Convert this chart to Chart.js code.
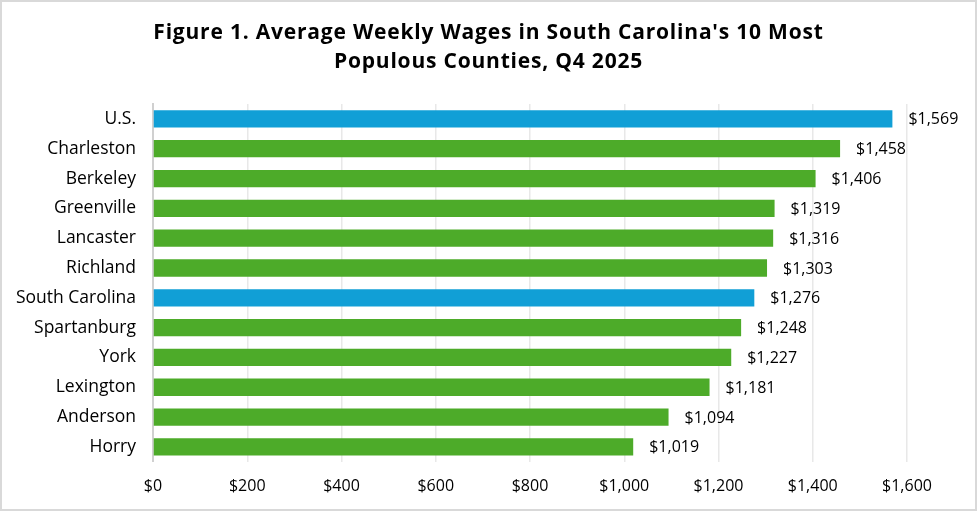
<!DOCTYPE html>
<html>
<head>
<meta charset="utf-8">
<script src="https://cdn.jsdelivr.net/npm/chart.js@4/dist/chart.umd.min.js"></script>
<style>
html,body{margin:0;padding:0;background:#fff;}
#wrap{width:977px;height:511px;position:relative;}
</style>
</head>
<body>
<div id="wrap"><canvas id="c"></canvas></div>
<script>
const titleLines = ["Figure 1. Average Weekly Wages in South Carolina's 10 Most", "Populous Counties, Q4 2025"];
const categories = ["U.S.", "Charleston", "Berkeley", "Greenville", "Lancaster", "Richland", "South Carolina", "Spartanburg", "York", "Lexington", "Anderson", "Horry"];
const wages = [1569, 1458, 1406, 1319, 1316, 1303, 1276, 1248, 1227, 1181, 1094, 1019];
const highlighted = ["U.S.", "South Carolina"];
const xTickMax = 1600;
const xTickStep = 200;

const BLUE = '#119fd6';
const GREEN = '#4dab29';
const FONT = "'Open Sans', 'Liberation Sans', sans-serif";

const fmt = v => '$' + v.toLocaleString('en-US');

const titlePlugin = {
  id: 'titleText',
  afterDraw(chart) {
    const ctx = chart.ctx;
    ctx.save();
    ctx.font = "bold 21px " + FONT;
    if ('letterSpacing' in ctx) ctx.letterSpacing = '0.8px';
    ctx.fillStyle = '#000';
    ctx.textAlign = 'center';
    ctx.textBaseline = 'middle';
    const cx = chart.width / 2;
    ctx.fillText(titleLines[0], cx, 33);
    ctx.fillText(titleLines[1], cx, 62);
    ctx.restore();
  }
};

const valueLabels = {
  id: 'valueLabels',
  afterDatasetsDraw(chart) {
    const ctx = chart.ctx;
    const meta = chart.getDatasetMeta(0);
    ctx.save();
    ctx.font = "16px " + FONT;
    ctx.fillStyle = '#000';
    ctx.textAlign = 'left';
    ctx.textBaseline = 'middle';
    meta.data.forEach((bar, i) => {
      ctx.fillText(fmt(chart.data.datasets[0].data[i]), bar.x + 16, bar.y + 1);
    });
    ctx.restore();
  }
};

const frame = {
  id: 'frame',
  afterDraw(chart) {
    const ctx = chart.ctx;
    ctx.save();
    ctx.strokeStyle = '#d9d9d9';
    ctx.lineWidth = 2;
    ctx.strokeRect(1, 1, chart.width - 2, chart.height - 2);
    ctx.restore();
  }
};

new Chart(document.getElementById('c'), {
  type: 'bar',
  data: {
    labels: categories,
    datasets: [{
      data: wages,
      backgroundColor: categories.map(c => highlighted.includes(c) ? BLUE : GREEN),
      barPercentage: 0.58,
      categoryPercentage: 1.0
    }]
  },
  options: {
    indexAxis: 'y',
    responsive: true,
    maintainAspectRatio: false,
    animation: false,
    layout: { padding: { left: 0, right: 70, top: 104, bottom: 0 } },
    plugins: {
      legend: { display: false },
      tooltip: { enabled: false },
      title: { display: false }
    },
    scales: {
      x: {
        min: 0,
        max: xTickMax,
        ticks: {
          stepSize: xTickStep,
          callback: v => fmt(v),
          color: '#000',
          font: { family: FONT, size: 16 },
          padding: 15,
          maxRotation: 0
        },
        grid: { color: '#e8e8e8', lineWidth: 1.5, drawTicks: false },
        border: { display: false }
      },
      y: {
        afterFit(scale) { scale.width = 153; },
        ticks: {
          color: '#000',
          font: { family: FONT, size: 17.5 },
          padding: 17
        },
        grid: { display: false, drawTicks: false },
        border: { display: true, color: '#d0d0d0', width: 2 }
      }
    }
  },
  plugins: [valueLabels, titlePlugin, frame]
});
</script>
</body>
</html>
